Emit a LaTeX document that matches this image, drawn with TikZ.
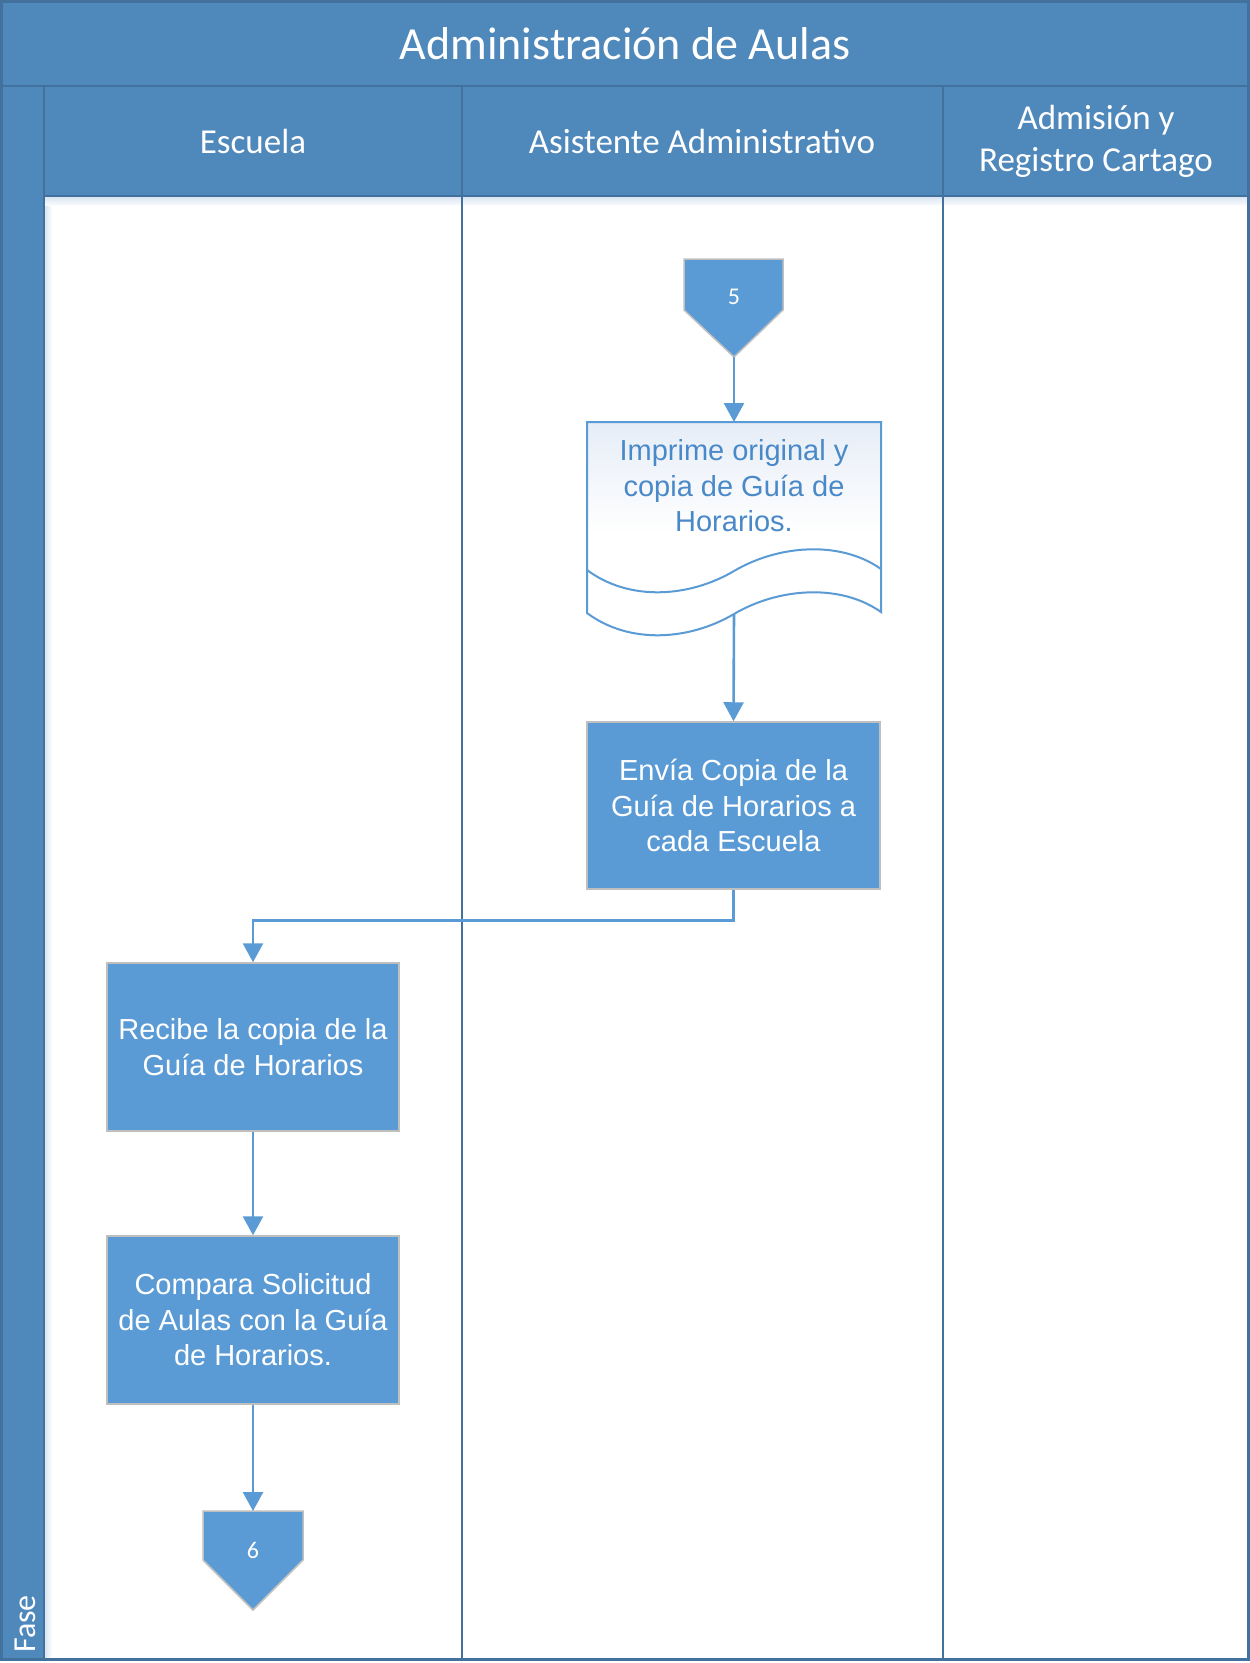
\documentclass[tikz,border=0pt]{standalone}
\usepackage{fontspec}
\setmainfont{Liberation Sans}
\newfontfamily\calfont{Carlito}
\usetikzlibrary{arrows.meta,calc}
\definecolor{band}{HTML}{4F88BB}
\definecolor{bandline}{HTML}{41719C}
\definecolor{boxfill}{HTML}{5B9BD5}
\definecolor{boxedge}{HTML}{BFBFBF}
\definecolor{flow}{HTML}{5B9BD5}
\definecolor{doctext}{HTML}{4A89C8}
\definecolor{doctint}{HTML}{E6EDF7}

\begin{document}
\begin{tikzpicture}[x=1pt,y=-1pt,
  procbox/.style={rectangle, draw=boxedge, line width=1.5pt, fill=boxfill, text=white,
    minimum width=292pt, minimum height=167pt, align=center, inner sep=0pt,
    font=\fontsize{29}{35.5}\selectfont},
  offpage/.style={fill=boxfill, draw=boxedge, line width=1.5pt},
  offtxt/.style={text=white, inner sep=0pt, font=\calfont\fontsize{24}{28}\selectfont},
  hdr/.style={text=white, inner sep=0pt, align=center, font=\calfont\fontsize{35}{42}\selectfont},
  conn/.style={draw=flow, line width=2.6pt, -{Triangle[width=20pt,length=19pt]}},
  lane/.style={draw=bandline, line width=2.5pt}
]
\useasboundingbox (0,0) rectangle (1250,1663);
\fill[white] (0,0) rectangle (1250,1663);

% title band, lane header row and phase strip
\fill[band] (0,0) rectangle (1250,196);
\fill[band] (0,196) rectangle (44,1660);
\shade[top color=band!22, bottom color=white] (44,197) rectangle (1250,206);
\shade[left color=band!22, right color=white] (45,206) rectangle (52,1660);

% lane and band borders
\draw[bandline, line width=2pt] (0,86) -- (1250,86);
\draw[bandline, line width=2pt] (44,196) -- (1250,196);
\draw[bandline, line width=2pt] (44,86) -- (44,1660);
\draw[lane] (462,86) -- (462,1660);
\draw[lane] (943,86) -- (943,1660);
\draw[bandline, line width=3pt] (1.5,1.5) rectangle (1248.5,1659.5);

% titles
\node[hdr, font=\calfont\fontsize{46}{52}\selectfont] (title) at (625,44) {Administración de Aulas};
\node[hdr] (laneA) at (253,141) {Escuela};
\node[hdr] (laneB) at (702,141) {Asistente Administrativo};
\node[hdr] (laneC) at (1096,141) {Admisión y\\Registro Cartago};
\node[rotate=90, anchor=base west, inner sep=0pt, text=white,
      font=\calfont\fontsize{32}{36}\selectfont] (fase) at (35,1653) {Fase};

% off-page connector 5
\path[offpage] (684,259) -- (783,259) -- (783,310) -- (734,357) -- (684,310) -- cycle;
\node[offtxt] (off5) at (734,297) {5};
\coordinate (off5tip) at (734,357);

% printed document
\path[top color=doctint, bottom color=white, middle color=white, draw=flow, line width=2pt]
  (587,422) -- (881,422) -- (881,612)
  .. controls (840,583) and (778,588) .. (734,614)
  .. controls (690,640) and (630,645) .. (587,613) -- cycle;
\draw[flow, line width=2pt] (587,570)
  .. controls (630,602) and (690,597) .. (734,571)
  .. controls (778,545) and (840,540) .. (881,569);
\node[anchor=north, minimum width=294pt, minimum height=192pt, inner sep=0pt] (imprime) at (734,422) {};
\node[text=doctext, align=center, inner sep=0pt, font=\fontsize{29}{35.5}\selectfont] (imprimetxt) at (734,486)
  {Imprime original y\\copia de Guía de\\Horarios.};
\coordinate (imprimeout) at (734,614);

% process boxes
\node[procbox, minimum width=293pt] (envia) at (733.5,805.5) {Envía Copia de la\\Guía de Horarios a\\cada Escuela};
\node[procbox, minimum height=168pt] (recibe) at (253,1047) {Recibe la copia de la\\Guía de Horarios};
\node[procbox, minimum height=168pt] (compara) at (253,1320) {Compara Solicitud\\de Aulas con la Guía\\de Horarios.};

% off-page connector 6
\path[offpage] (203,1511) -- (303,1511) -- (303,1560) -- (253,1610) -- (203,1560) -- cycle;
\node[offtxt] (off6) at (253,1550) {6};
\coordinate (off6top) at (253,1511);

% connectors
\draw[conn] (off5tip) -- (imprime.north);
\draw[conn] (imprimeout) -- (envia.north);
\draw[conn] (envia.south) -- ++(0,31) -| (recibe.north);
\draw[conn] (recibe.south) -- (compara.north);
\draw[conn] (compara.south) -- (off6top);
\end{tikzpicture}
\end{document}
